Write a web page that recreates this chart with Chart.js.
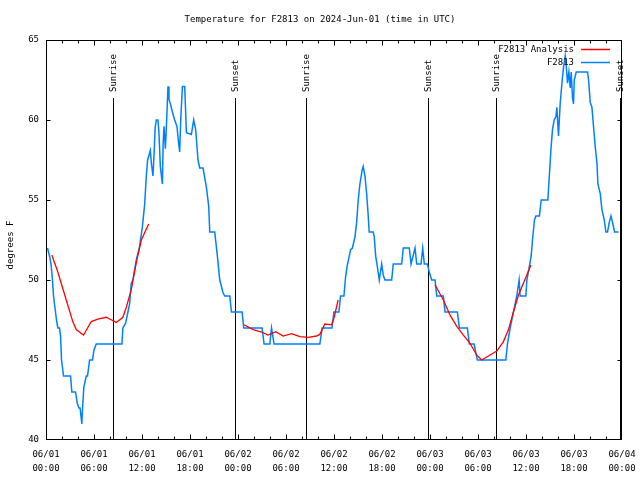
<!DOCTYPE html>
<html lang="en">
<head>
  <meta charset="UTF-8">
  <title>Temperature for F2813</title>
  <script src="https://cdn.jsdelivr.net/npm/chart.js"></script>
  <style>
    body {
      margin: 0;
      background-color: #fff;
    }
    canvas {
      display: block;
    }
  </style>
</head>
<body>

  <canvas id="tempChart" width="640" height="480"></canvas>

  <script>
    // hours since 06/01 00:00 UTC
    const obsHours = [
      0.19, 0.44, 0.63, 0.81, 0.94, 1.06, 1.19, 1.31, 1.48, 1.69,
      1.82, 1.94, 2.07, 2.19, 3.07, 3.23, 3.69, 3.91, 4.11, 4.26,
      4.48, 4.57, 4.73, 5.03, 5.19, 5.45, 5.82, 5.98, 6.28, 9.49,
      9.61, 9.95, 10.24, 10.45, 10.66, 10.86, 11.29, 11.70, 12.04, 12.33,
      12.54, 12.70, 12.87, 13.04, 13.17, 13.37, 13.52, 13.64, 13.79, 13.99,
      14.12, 14.29, 14.55, 14.64, 14.75, 14.92, 15.05, 15.25, 15.37, 15.55,
      15.80, 16.08, 16.37, 16.59, 16.71, 16.84, 17.05, 17.34, 17.55, 18.17,
      18.46, 18.71, 19.00, 19.21, 19.63, 20.05, 20.34, 20.47, 21.09, 21.38,
      21.72, 22.13, 22.34, 22.97, 23.18, 24.51, 24.72, 27.01, 27.26, 27.98,
      28.19, 28.51, 34.23, 34.52, 35.74, 35.99, 36.61, 36.82, 37.24, 37.45,
      37.65, 38.08, 38.30, 38.62, 38.83, 39.03, 39.24, 39.53, 39.65, 39.87,
      40.08, 40.28, 40.40, 40.91, 41.03, 41.21, 41.46, 41.66, 41.96, 42.16,
      42.37, 43.21, 43.41, 44.46, 44.66, 45.41, 45.63, 45.88, 46.13, 46.34,
      46.88, 47.09, 47.29, 47.67, 47.91, 48.21, 48.63, 48.84, 49.67, 49.88,
      51.42, 51.67, 52.67, 52.92, 53.51, 53.92, 57.48, 57.68, 58.02, 58.43,
      58.85, 59.14, 59.27, 59.98, 60.11, 60.65, 60.81, 61.06, 61.23, 61.68,
      61.90, 62.73, 62.94, 63.11, 63.31, 63.52, 63.74, 63.86, 64.06, 64.27,
      64.49, 64.69, 64.90, 65.03, 65.19, 65.36, 65.53, 65.65, 65.81, 65.94,
      66.03, 66.28, 67.69, 67.82, 68.03, 68.24, 68.44, 68.66, 68.87, 68.99,
      69.28, 69.49, 69.78, 69.99, 70.19, 70.41, 70.62, 70.82, 71.07, 71.57
    ];
    const obsTemps = [
      52, 51.5, 51, 50, 49, 48.5, 48, 47.5, 47, 47,
      46.5, 45, 44.5, 44, 44, 43, 43, 42.3, 42, 42,
      41, 42, 43.3, 44, 44, 45, 45, 45.6, 46, 46,
      47, 47.3, 48, 48.5, 49.8, 50, 51.25, 52.1, 53.3, 54.7,
      56.5, 57.5, 57.8, 58.1, 57.3, 56.5, 58, 59.5, 60, 60,
      59.2, 57.1, 56, 58.5, 59.6, 58.2, 59.6, 62.1, 61.3, 61,
      60.5, 60, 59.6, 58.5, 58, 60, 62.1, 62.1, 59.2, 59.1,
      60, 59.4, 57.5, 57, 57, 55.8, 54.6, 53, 53, 51.7,
      50, 49.2, 49, 49, 48, 48, 47, 47, 46, 46,
      47, 46, 46, 47, 47, 48, 48, 49, 49, 50.2,
      50.9, 51.9, 52, 52.7, 53.6, 55, 56, 56.9, 57.1, 56.5,
      55.4, 54, 53, 53, 52.7, 51.5, 50.7, 50, 51, 50.3,
      50, 50, 51, 51, 52, 52, 51, 51.5, 52, 51,
      51, 52, 51, 51, 50.5, 50, 50, 49, 49, 48,
      48, 47, 47, 46, 46, 45, 45, 46, 47, 48,
      49, 50, 49, 49, 50, 51.5, 52.5, 53.75, 54, 54,
      55, 55, 56.7, 58.1, 59.4, 60, 60.2, 60.8, 59, 61,
      62.3, 63.3, 64, 63.4, 62.3, 63, 62, 63, 61.4, 61,
      62.5, 63, 63, 62.5, 61.1, 60.8, 59.6, 58.3, 57.3, 56,
      55.4, 54.4, 53.75, 53, 53, 53.6, 54, 53.6, 53, 53
    ];

    // analysis, null = no analysis for that stretch
    const anaHours = [
      0.73, 1.48, 2.53, 3.35, 3.78, 4.69, 5.19, 5.66, 6.48, 7.54,
      8.20, 8.79, 9.61, 10.04, 10.66, 11.29, 11.92, 12.83, 18.00,
      24.76, 25.89, 26.94, 27.76, 28.73, 29.64, 30.69, 31.73, 32.77, 33.82,
      34.23, 34.86, 35.70, 35.99, 36.52, 42.00,
      48.63, 49.67, 50.51, 51.35, 52.17, 53.01, 53.85, 54.46, 55.30, 56.35,
      57.18, 57.81, 58.43, 59.06, 59.68, 60.61
    ];
    const anaTemps = [
      51.56, 50.5, 48.75, 47.4, 46.9, 46.56, 47, 47.4, 47.55, 47.67,
      47.5, 47.35, 47.67, 48.3, 49.4, 51.1, 52.5, 53.5, null,
      47.2, 46.9, 46.75, 46.56, 46.77, 46.5, 46.65, 46.46, 46.42, 46.5,
      46.6, 47.25, 47.2, 47.6, 48.75, null,
      49.7, 48.75, 47.8, 47.1, 46.56, 46.04, 45.3, 45, 45.25, 45.56,
      46.15, 46.9, 48, 49.06, 49.8, 50.94
    ];

    const eventHours = [8.36, 23.68, 32.44, 47.69, 56.30, 71.72];
    const eventLabels = ["Sunrise", "Sunset", "Sunrise", "Sunset", "Sunrise", "Sunset"];

    const xDateLabels = ["06/01", "06/01", "06/01", "06/01", "06/02", "06/02", "06/02",
                         "06/02", "06/03", "06/03", "06/03", "06/03", "06/04"];
    const xTimeLabels = ["00:00", "06:00", "12:00", "18:00", "00:00", "06:00", "12:00",
                         "18:00", "00:00", "06:00", "12:00", "18:00", "00:00"];

    const titleText = "Temperature for F2813 on 2024-Jun-01 (time in UTC)";
    const FONT = '9px "DejaVu Sans Mono"';
    const RED = '#ff0000';
    const BLUE = '#0080ff';

    const obsData = obsHours.map((h, i) => ({ x: h, y: obsTemps[i] }));
    const anaData = anaHours.map((h, i) => ({ x: h, y: anaTemps[i] }));

    // border, inward tics, sunrise/sunset markers, legend and labels
    const gnuplotLook = {
      id: 'gnuplotLook',
      beforeDatasetsDraw(chart) {
        const { ctx, chartArea: a, scales: { x } } = chart;
        ctx.save();
        ctx.strokeStyle = '#000';
        ctx.fillStyle = '#000';
        ctx.lineWidth = 1;
        ctx.font = FONT;
        eventHours.forEach((h, i) => {
          const px = Math.round(x.getPixelForValue(h)) + 0.5;
          ctx.beginPath();
          ctx.moveTo(px, 98);
          ctx.lineTo(px, a.bottom);
          ctx.stroke();
          ctx.save();
          ctx.translate(px + 0.5, 92);
          ctx.rotate(-Math.PI / 2);
          ctx.textAlign = 'left';
          ctx.textBaseline = 'middle';
          ctx.fillText(eventLabels[i], 0, 0);
          ctx.restore();
        });
        ctx.restore();
      },
      afterDatasetsDraw(chart) {
        const { ctx, chartArea: a, scales: { x, y } } = chart;
        const L = Math.round(a.left) + 0.5, R = Math.round(a.right) - 0.5;
        const T = Math.round(a.top) + 0.5, B = Math.round(a.bottom) - 0.5;
        ctx.save();
        ctx.strokeStyle = '#000';
        ctx.lineWidth = 1;
        ctx.strokeRect(L, T, R - L, B - T);

        ctx.beginPath();
        for (let h = 2; h < 72; h += 2) {
          const px = Math.round(x.getPixelForValue(h)) + 0.5;
          const len = h % 6 === 0 ? 5 : 3;
          ctx.moveTo(px, B); ctx.lineTo(px, B - len);
          ctx.moveTo(px, T); ctx.lineTo(px, T + len);
        }
        for (let v = 45; v < 65; v += 5) {
          const py = Math.round(y.getPixelForValue(v)) + 0.5;
          ctx.moveTo(L, py); ctx.lineTo(L + 4, py);
          ctx.moveTo(R, py); ctx.lineTo(R - 4, py);
        }
        ctx.stroke();

        // legend
        ctx.font = FONT;
        ctx.fillStyle = '#000';
        ctx.textAlign = 'right';
        ctx.textBaseline = 'middle';
        const items = [["F2813 Analysis", RED, 9], ["F2813", BLUE, 22]];
        items.forEach(([label, color, dy]) => {
          const ly = a.top + dy + 0.5;
          ctx.fillText(label, a.right - 48, ly);
          ctx.strokeStyle = color;
          ctx.lineWidth = 1.5;
          ctx.beginPath();
          ctx.moveTo(a.right - 41, ly);
          ctx.lineTo(a.right - 12, ly);
          ctx.stroke();
        });

        // title and y label
        ctx.textAlign = 'center';
        ctx.fillText(titleText, 320, 20);
        ctx.save();
        ctx.translate(10.5, 245);
        ctx.rotate(-Math.PI / 2);
        ctx.fillText("degrees F", 0, 0);
        ctx.restore();
        ctx.restore();
      }
    };

    const ctx = document.getElementById('tempChart').getContext('2d');

    new Chart(ctx, {
      type: 'line',
      data: {
        datasets: [
          {
            label: 'F2813 Analysis',
            data: anaData,
            borderColor: RED,
            borderWidth: 1.3,
            pointRadius: 0,
            tension: 0,
            spanGaps: false
          },
          {
            label: 'F2813',
            data: obsData,
            borderColor: BLUE,
            borderWidth: 1.5,
            pointRadius: 0,
            tension: 0
          }
        ]
      },
      options: {
        responsive: false,
        animation: false,
        devicePixelRatio: 1,
        layout: {
          padding: { top: 40, right: 18, left: 0, bottom: 0 }
        },
        plugins: {
          legend: { display: false },
          title: { display: false },
          tooltip: { enabled: false }
        },
        scales: {
          x: {
            type: 'linear',
            min: 0,
            max: 72,
            grid: { display: false, drawTicks: false },
            border: { display: false },
            ticks: {
              stepSize: 6,
              autoSkip: false,
              maxRotation: 0,
              padding: 8,
              color: '#000',
              font: { family: 'DejaVu Sans Mono', size: 9, lineHeight: 1.55 },
              callback: (v) => {
                const i = Math.round(v / 6);
                return [xDateLabels[i], xTimeLabels[i]];
              }
            },
            afterFit: (scale) => {
              scale.height = 40;
              scale.paddingLeft = 0;
              scale.paddingRight = 0;
            }
          },
          y: {
            min: 40,
            max: 65,
            grid: { display: false, drawTicks: false },
            border: { display: false },
            ticks: {
              stepSize: 5,
              padding: 7,
              color: '#000',
              font: { family: 'DejaVu Sans Mono', size: 9 }
            },
            afterFit: (scale) => {
              scale.width = 46;
              scale.paddingTop = 0;
              scale.paddingBottom = 0;
            }
          }
        }
      },
      plugins: [gnuplotLook]
    });
  </script>

</body>
</html>
